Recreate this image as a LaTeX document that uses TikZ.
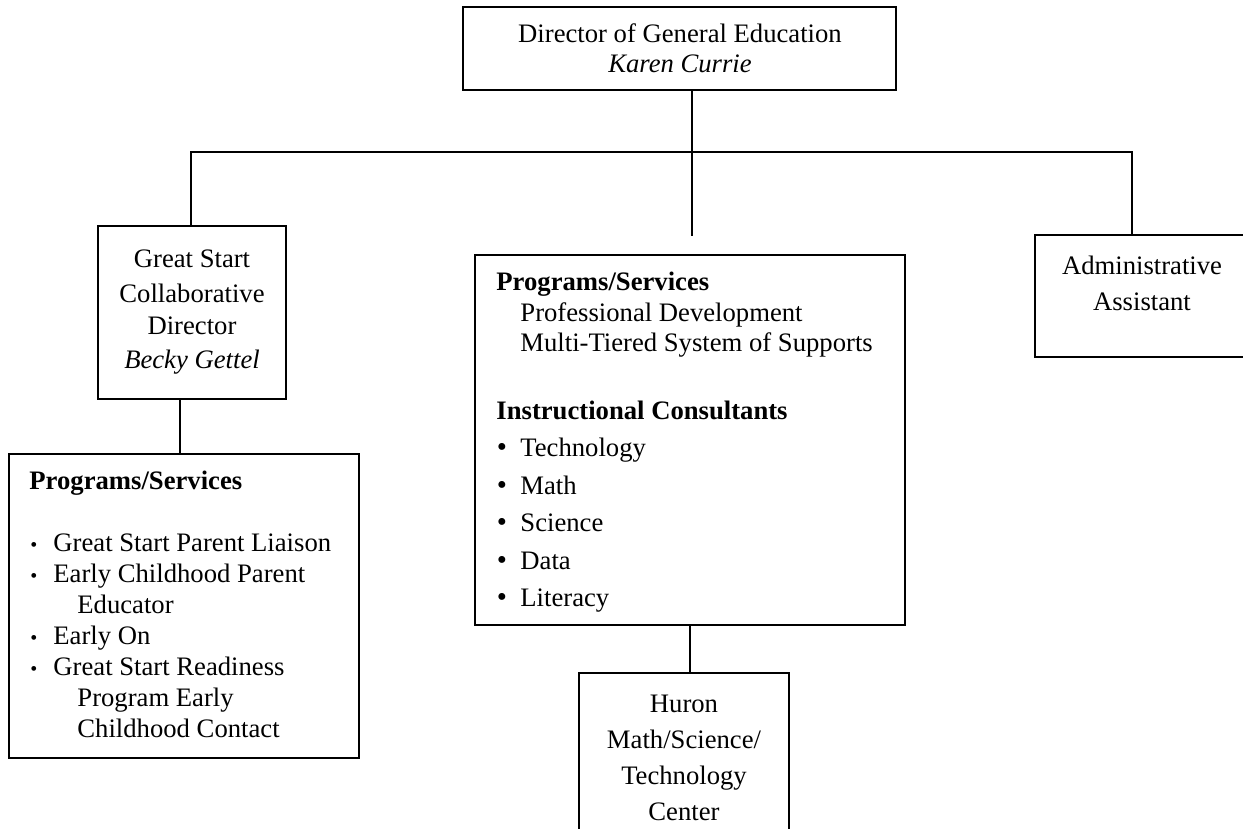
\documentclass[tikz,border=0pt]{standalone}
\usepackage{fontspec}
\setmainfont{Liberation Serif}
\usetikzlibrary{fit}
\begin{document}
\begin{tikzpicture}[x=0.45pt,y=-0.45pt,
  every node/.style={font=\fontsize{12}{14}\selectfont},
  box/.style={draw,line width=1pt,inner sep=0pt,rectangle},
  ln/.style={anchor=base,inner sep=0pt},
  lnl/.style={anchor=base west,inner sep=0pt},
  smallbul/.style={anchor=base,inner sep=0pt,font=\fontsize{9}{10}\selectfont},
  bigbul/.style={anchor=base,inner sep=0pt,font=\fontsize{13}{14}\selectfont},
  conn/.style={line width=1pt}]
\useasboundingbox (0,0) rectangle (1243,829);
\clip (0,0) rectangle (1243,829);

% Director
\node[box,fit={(463,7)(896,90)}] (dir) {};
\node[ln] (dirT1) at (680,43) {Director of General Education};
\node[ln] (dirT2) at (680,73) {\itshape Karen Currie};

% Great Start Collaborative Director
\node[box,fit={(98,226)(286,399)}] (gs) {};
\node[ln] (gsT1) at (192,268) {Great Start};
\node[ln] (gsT2) at (192,303) {Collaborative};
\node[ln] (gsT3) at (192,335) {Director};
\node[ln] (gsT4) at (192,369) {\itshape Becky Gettel};

% Great Start programs
\node[box,fit={(9,454)(359,758)}] (gsprog) {};
\node[lnl] (gpH) at (29,490) {\bfseries Programs/Services};
\node[smallbul] (gpB1) at (34,552) {\textbullet};
\node[lnl] (gpT1) at (53,552) {Great Start Parent Liaison};
\node[smallbul] (gpB2) at (34,583) {\textbullet};
\node[lnl] (gpT2) at (53,583) {Early Childhood Parent};
\node[lnl] (gpT3) at (77,614) {Educator};
\node[smallbul] (gpB3) at (34,645) {\textbullet};
\node[lnl] (gpT4) at (53,645) {Early On};
\node[smallbul] (gpB4) at (34,676) {\textbullet};
\node[lnl] (gpT5) at (53,676) {Great Start Readiness};
\node[lnl] (gpT6) at (77,707) {Program Early};
\node[lnl] (gpT7) at (77,738) {Childhood Contact};

% Central programs and consultants
\node[box,fit={(475,255)(905,625)}] (cprog) {};
\node[lnl] (cpH1) at (496,291) {\bfseries Programs/Services};
\node[lnl] (cpT1) at (520,322) {Professional Development};
\node[lnl] (cpT2) at (520,352) {Multi-Tiered System of Supports};
\node[lnl] (cpH2) at (496,420) {\bfseries Instructional Consultants};
\node[bigbul] (cpB1) at (502,457) {\textbullet};
\node[lnl] (cpI1) at (520,457) {Technology};
\node[bigbul] (cpB2) at (502,495) {\textbullet};
\node[lnl] (cpI2) at (520,495) {Math};
\node[bigbul] (cpB3) at (502,532) {\textbullet};
\node[lnl] (cpI3) at (520,532) {Science};
\node[bigbul] (cpB4) at (502,570) {\textbullet};
\node[lnl] (cpI4) at (520,570) {Data};
\node[bigbul] (cpB5) at (502,607) {\textbullet};
\node[lnl] (cpI5) at (520,607) {Literacy};

% Huron center
\node[box,fit={(579,673)(789,860)}] (huron) {};
\node[ln] (huT1) at (684,713) {Huron};
\node[ln] (huT2) at (684,749) {Math/Science/};
\node[ln] (huT3) at (684,785) {Technology};
\node[ln] (huT4) at (684,821) {Center};

% Administrative assistant
\node[box,fit={(1035,235)(1260,357)}] (admin) {};
\node[ln] (adT1) at (1142,275) {Administrative};
\node[ln] (adT2) at (1142,311) {Assistant};

% Connectors
\coordinate (busL) at (191,152);
\coordinate (busR) at (1132,152);
\coordinate (stemEnd) at (692,236);
\coordinate (gsDrop) at (180,0);
\coordinate (cDrop) at (690,0);
\draw[conn] (dir.south -| stemEnd) -- (stemEnd);
\draw[conn] (busL |- gs.north) -- (busL) -- (busR) -- (busR |- admin.north);
\draw[conn] (gs.south -| gsDrop) -- (gsDrop |- gsprog.north);
\draw[conn] (cprog.south -| cDrop) -- (cDrop |- huron.north);
\end{tikzpicture}
\end{document}
